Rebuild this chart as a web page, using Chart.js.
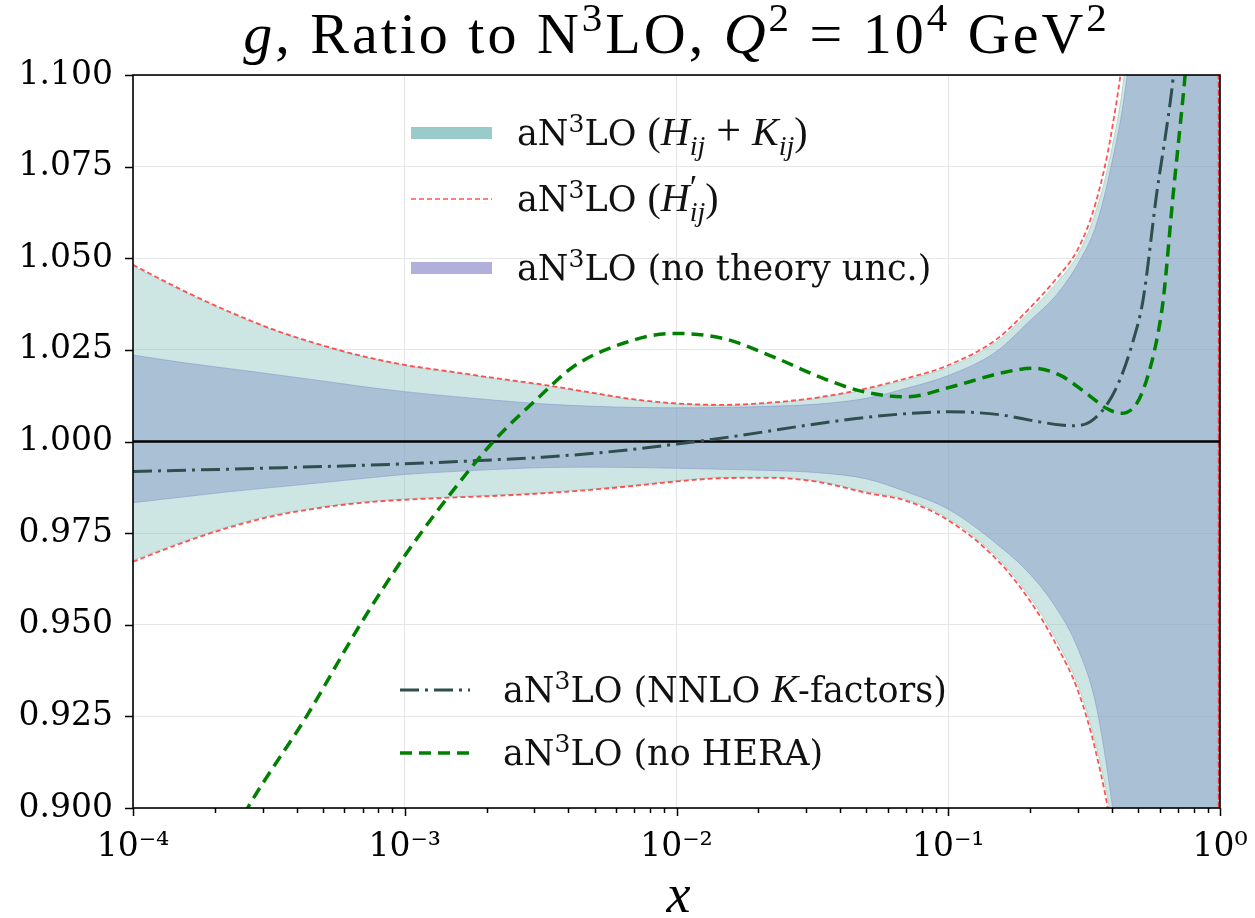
<!DOCTYPE html>
<html>
<head>
<meta charset="utf-8">
<script src="https://cdn.jsdelivr.net/npm/chart.js@4/dist/chart.umd.min.js"></script>
<style>
  html, body { margin: 0; padding: 0; background: #fff; }
  #wrap { width: 1255px; height: 918px; }
</style>
</head>
<body>
<div id="wrap"><canvas id="c" width="1255" height="918"></canvas></div>
<script>
// ---- data: ratio of the gluon PDF to N3LO at Q^2 = 10^4 GeV^2 ----
const xGrid = [1e-4, 1.5e-4, 2.2e-4, 3.3e-4, 5e-4, 7e-4, 1e-3, 1.5e-3, 2.2e-3, 3.3e-3, 5e-3, 7e-3,
               1e-2, 1.5e-2, 2.2e-2, 3.3e-2, 5e-2, 7e-2, 0.1, 0.15, 0.2, 0.25, 0.3, 0.35, 0.4, 0.45,
               0.5, 0.6, 0.8, 0.975, 1.0];

// aN3LO (H'_ij) band edges
const hpUpper = [1.0482, 1.0415, 1.0358, 1.0305, 1.0262, 1.0233, 1.0209, 1.0190, 1.0172, 1.0154, 1.0132, 1.0115,
                 1.0104, 1.0100, 1.0106, 1.0120, 1.0145, 1.0172, 1.0208, 1.0278, 1.0365, 1.0445, 1.0525, 1.0655, 1.0850, 1.1130,
                 1.16, 1.30, 1.80, 4.0, -3.0];
const hpLower = [0.9672, 0.9722, 0.9763, 0.9797, 0.9820, 0.9833, 0.9841, 0.9847, 0.9852, 0.9859, 0.9869, 0.9879,
                 0.9891, 0.9900, 0.9901, 0.9890, 0.9860, 0.9838, 0.9785, 0.9680, 0.9565, 0.9445, 0.9320, 0.9150, 0.8930, 0.8600,
                 0.82, 0.70, 0.30, -3.0, 4.0];

// aN3LO (H_ij + K_ij) band edges
const hkUpper = [1.0478, 1.0412, 1.0355, 1.0303, 1.0260, 1.0231, 1.0207, 1.0188, 1.0170, 1.0152, 1.0130, 1.0113,
                 1.0102, 1.0098, 1.0104, 1.0118, 1.0142, 1.0168, 1.0203, 1.0271, 1.0355, 1.0432, 1.0510, 1.0630, 1.0800, 1.1040,
                 1.15, 1.29, 1.78, 3.8, 3.8];
const hkLower = [0.9676, 0.9725, 0.9766, 0.9800, 0.9822, 0.9835, 0.9843, 0.9849, 0.9854, 0.9861, 0.9871, 0.9881,
                 0.9893, 0.9902, 0.9903, 0.9892, 0.9863, 0.9842, 0.9790, 0.9687, 0.9575, 0.9458, 0.9335, 0.9170, 0.8960, 0.8650,
                 0.825, 0.71, 0.32, -2.8, -2.8];

// aN3LO (no theory unc.) band edges
const expUpper = [1.0236, 1.0216, 1.0200, 1.0183, 1.0165, 1.0150, 1.0136, 1.0123, 1.0112, 1.0102, 1.0096, 1.0093,
                  1.0092, 1.0093, 1.0096, 1.0102, 1.0118, 1.0145, 1.0180, 1.0245, 1.0330, 1.0400, 1.0485, 1.0590, 1.0760, 1.0970,
                  1.13, 1.26, 1.70, 3.5, 3.5];
const expLower = [0.9833, 0.9848, 0.9862, 0.9875, 0.9888, 0.9899, 0.9910, 0.9918, 0.9924, 0.9929, 0.9930, 0.9929,
                  0.9927, 0.9924, 0.9921, 0.9915, 0.9898, 0.9863, 0.9815, 0.9722, 0.9638, 0.9545, 0.9435, 0.9280, 0.9015, 0.8700,
                  0.83, 0.72, 0.30, -2.5, -2.5];

// aN3LO (NNLO K-factors)
const kfX = [1e-4, 3e-4, 1e-3, 2e-3, 3.2e-3, 5.5e-3, 1e-2, 1.7e-2, 3e-2, 5.3e-2, 0.1, 0.155, 0.215, 0.26, 0.29,
             0.333, 0.383, 0.428, 0.48, 0.521, 0.585, 0.637, 0.673, 0.75];
const kfY = [0.9918, 0.9927, 0.9939, 0.9949, 0.9957, 0.9971, 0.9993, 1.0016, 1.0044, 1.0068, 1.0081, 1.0073, 1.0054, 1.0045, 1.0043,
             1.0054, 1.0100, 1.0168, 1.0277, 1.0386, 1.0677, 1.0859, 1.0995, 1.14];

// aN3LO (no HERA)
const nhX = [2.2e-4, 2.66e-4, 4.35e-4, 6.85e-4, 1e-3, 1.43e-3, 2.12e-3, 3.15e-3, 4.17e-3, 6.37e-3, 9.7e-3, 1.49e-2,
             2.27e-2, 3.47e-2, 4.87e-2, 7.03e-2, 0.1015, 0.155, 0.2055, 0.2576, 0.323, 0.383, 0.435, 0.494, 0.537,
             0.585, 0.618, 0.673, 0.713, 0.743, 0.8];
const nhY = [0.889, 0.9004, 0.925, 0.950, 0.9688, 0.9845, 1.0000, 1.0124, 1.0204, 1.0268, 1.0295, 1.0281,
             1.0231, 1.0172, 1.0136, 1.0122, 1.0148, 1.0186, 1.0200, 1.0181, 1.0131, 1.0090, 1.0077, 1.0104, 1.0168,
             1.0277, 1.0386, 1.0677, 1.0859, 1.0995, 1.13];

// reference line (ratio = 1)
const refX = [1e-4, 1];
const refY = [1, 1];

// axis ticks
const xDecades = [1e-4, 1e-3, 1e-2, 1e-1, 1];
const xDecadeLabels = ['10\u207B\u2074', '10\u207B\u00B3', '10\u207B\u00B2', '10\u207B\u00B9', '10\u2070'];
const yTickValues = [0.9, 0.925, 0.95, 0.975, 1.0, 1.025, 1.05, 1.075, 1.1];
const yTickLabels = ['0.900', '0.925', '0.950', '0.975', '1.000', '1.025', '1.050', '1.075', '1.100'];

// ---- helpers ----
const pts = (xs, ys) => xs.map((x, i) => ({ x, y: ys[i] }));
const isDecade = v => Math.abs(Math.log10(v) - Math.round(Math.log10(v))) < 1e-9;
const minorTicks = [];
for (let e = -4; e < 0; e++) for (let m = 1; m <= 9; m++) minorTicks.push(m * Math.pow(10, e));
minorTicks.push(1);

const TXT = '"DejaVu Serif"';
const MATH = '"Liberation Serif"';
const fTxt = s => `${s}px ${TXT}`;
const fRm = s => `${s}px ${MATH}`;
const fIt = s => `italic ${s}px ${MATH}`;

const C_GREEN = '#008000';
const C_KF = '#2f4f4f';
const C_RED = 'rgba(255,40,40,0.8)';
const DASH_GREEN = [12, 7];
const DASH_KF = [19, 6, 3, 6];
const DASH_RED = [5, 3];

// lay out a sequence of styled text runs (for super/subscripts)
function layoutRuns(ctx, runs, spacing) {
  let x0 = 0, stackStart = null, stackW = 0;
  const items = [];
  for (const r of runs) {
    ctx.font = r.font;
    const w = ctx.measureText(r.t).width + spacing * r.t.length;
    const start = stackStart !== null ? stackStart : x0;
    items.push({ r, x: start });
    if (r.keep) { stackStart = start; stackW = w; x0 = start + w; }
    else {
      const adv = Math.max(w, stackStart !== null ? stackW : 0);
      x0 = start + adv; stackStart = null; stackW = 0;
    }
  }
  return { items, width: x0 };
}
function drawRuns(ctx, runs, x, y, align, spacing = 0) {
  const hasLS = 'letterSpacing' in ctx;
  const sp = hasLS ? spacing : 0;
  if (hasLS) ctx.letterSpacing = '0px';
  const { items, width } = layoutRuns(ctx, runs, sp);
  const ox = align === 'center' ? x - width / 2 : x;
  ctx.textBaseline = 'alphabetic';
  ctx.textAlign = 'left';
  if (hasLS) ctx.letterSpacing = sp + 'px';
  for (const it of items) {
    ctx.font = it.r.font;
    ctx.fillText(it.r.t, ox + it.x, y + (it.r.dy || 0));
  }
  if (hasLS) ctx.letterSpacing = '0px';
}
const sup = (t, s, f) => ({ t, font: f(Math.round(s * 0.7)), dy: -s * 0.38 });
const sub = (t, s, f) => ({ t, font: f(Math.round(s * 0.7)), dy: s * 0.24 });

// legend content
const LS = 35;
const MS = 40;
const n3lo = [{ t: 'aN', font: fTxt(LS) }, sup('3', LS, fTxt), { t: 'LO ', font: fTxt(LS) }];
const legendTop = [
  { kind: 'band', color: '#98cbc9', y: 133,
    runs: [...n3lo, { t: '(', font: fRm(MS) }, { t: 'H', font: fIt(MS) }, sub('ij', MS, fIt),
           { t: ' + ', font: fRm(MS + 4) }, { t: 'K', font: fIt(MS) }, sub('ij', MS, fIt), { t: ')', font: fRm(MS) }] },
  { kind: 'line', color: C_RED, width: 1.6, dash: DASH_RED, y: 199,
    runs: [...n3lo, { t: '(', font: fRm(MS) }, { t: 'H', font: fIt(MS) },
           { t: '\u2032', font: fRm(Math.round(MS * 0.85)), dy: -MS * 0.32, keep: true }, sub('ij', MS, fIt),
           { t: ')', font: fRm(MS) }] },
  { kind: 'band', color: '#b0b0da', y: 268,
    runs: [...n3lo, { t: '(no theory unc.)', font: fTxt(LS) }] }
];
const legendBottom = [
  { kind: 'line', color: C_KF, width: 3, dash: DASH_KF, y: 690,
    runs: [...n3lo, { t: '(NNLO ', font: fTxt(LS) }, { t: 'K', font: fIt(MS) }, { t: '-factors)', font: fTxt(LS) }] },
  { kind: 'line', color: C_GREEN, width: 3.5, dash: DASH_GREEN, y: 753,
    runs: [...n3lo, { t: '(no HERA)', font: fTxt(LS) }] }
];

function drawLegend(ctx, entries, hx0, hx1, tx) {
  for (const e of entries) {
    ctx.save();
    ctx.beginPath();
    ctx.moveTo(hx0, e.y); ctx.lineTo(hx1, e.y);
    ctx.lineCap = 'butt';
    if (e.kind === 'band') { ctx.strokeStyle = e.color; ctx.lineWidth = 12; ctx.setLineDash([]); }
    else { ctx.strokeStyle = e.color; ctx.lineWidth = e.width; ctx.setLineDash(e.dash); }
    ctx.stroke();
    ctx.restore();
    ctx.fillStyle = '#111';
    drawRuns(ctx, e.runs, tx, e.y + 12, 'left');
  }
}

// title: g, Ratio to N3LO, Q^2 = 10^4 GeV^2
const TS = 58;
const titleRuns = [
  { t: 'g', font: fIt(TS) }, { t: ', Ratio to N', font: fRm(TS) }, sup('3', TS, fRm),
  { t: 'LO, ', font: fRm(TS) }, { t: 'Q', font: fIt(TS) }, sup('2', TS, fRm),
  { t: ' = 10', font: fRm(TS) }, sup('4', TS, fRm), { t: ' GeV', font: fRm(TS) }, sup('2', TS, fRm)
];

const decor = {
  id: 'decor',
  afterDraw(chart) {
    const { ctx, chartArea: a, scales: { x, y } } = chart;
    ctx.save();
    // tick marks
    ctx.strokeStyle = '#000';
    ctx.lineWidth = 1.5;
    ctx.setLineDash([]);
    ctx.beginPath();
    for (const t of x.ticks) {
      const px = Math.round(x.getPixelForValue(t.value)) + 0.5;
      const L = isDecade(t.value) ? 8 : 5;
      ctx.moveTo(px, a.bottom); ctx.lineTo(px, a.bottom + L);
    }
    for (const t of y.ticks) {
      const py = Math.round(y.getPixelForValue(t.value)) + 0.5;
      ctx.moveTo(a.left - 8, py); ctx.lineTo(a.left, py);
    }
    ctx.stroke();
    // frame
    ctx.lineWidth = 1.6;
    ctx.strokeRect(a.left, a.top, a.right - a.left, a.bottom - a.top);

    // title
    ctx.fillStyle = '#000';
    drawRuns(ctx, titleRuns, (a.left + a.right) / 2, 53, 'center', 3);
    // x-axis title
    drawRuns(ctx, [{ t: 'x', font: fIt(54) }], (a.left + a.right) / 2 + 2, 912, 'center');

    // legends
    drawLegend(ctx, legendTop, 411, 492, 517);
    drawLegend(ctx, legendBottom, 400, 470, 503);
    ctx.restore();
  }
};

const data = {
  datasets: [
    { label: 'aN3LO (no HERA)', data: pts(nhX, nhY), borderColor: C_GREEN, borderWidth: 3.5,
      borderDash: DASH_GREEN, fill: false, order: 0 },
    { label: 'aN3LO (NNLO K-factors)', data: pts(kfX, kfY), borderColor: C_KF, borderWidth: 3,
      borderDash: DASH_KF, fill: false, order: 1 },
    { label: 'ratio = 1', data: pts(refX, refY), borderColor: '#000', borderWidth: 2.6,
      fill: false, order: 2, cubicInterpolationMode: 'default', tension: 0 },
    { label: "aN3LO (H'ij) upper", data: pts(xGrid, hpUpper), borderColor: C_RED, borderWidth: 1.8,
      borderDash: DASH_RED, fill: false, order: 3 },
    { label: "aN3LO (H'ij) lower", data: pts(xGrid, hpLower), borderColor: C_RED, borderWidth: 1.8,
      borderDash: DASH_RED, fill: false, order: 3 },
    { label: 'aN3LO (no theory unc.)', data: pts(xGrid, expUpper), borderColor: 'rgba(120,135,200,0.45)',
      borderWidth: 1, backgroundColor: 'rgba(129,147,198,0.45)', fill: '+1', order: 5 },
    { label: 'aN3LO (no theory unc.) lower', data: pts(xGrid, expLower), borderColor: 'rgba(120,135,200,0.45)',
      borderWidth: 1, fill: false, order: 5 },
    { label: 'aN3LO (Hij+Kij)', data: pts(xGrid, hkUpper), borderColor: 'rgba(140,195,190,0.55)',
      borderWidth: 1, backgroundColor: 'rgba(144,197,193,0.45)', fill: '+1', order: 6 },
    { label: 'aN3LO (Hij+Kij) lower', data: pts(xGrid, hkLower), borderColor: 'rgba(140,195,190,0.55)',
      borderWidth: 1, fill: false, order: 6 }
  ]
};

new Chart(document.getElementById('c'), {
  type: 'line',
  data,
  plugins: [decor],
  options: {
    responsive: false,
    animation: false,
    devicePixelRatio: 1,
    layout: { padding: { top: 75, right: 35, left: 0, bottom: 0 } },
    elements: {
      point: { radius: 0, hoverRadius: 0 },
      line: { cubicInterpolationMode: 'monotone', borderCapStyle: 'butt' }
    },
    plugins: {
      legend: { display: false },
      tooltip: { enabled: false },
      title: { display: false }
    },
    events: [],
    scales: {
      x: {
        type: 'logarithmic',
        min: 1e-4, max: 1,
        afterBuildTicks: s => { s.ticks = minorTicks.map(v => ({ value: v, major: isDecade(v) })); },
        afterFit: s => { s.height = 110; s.paddingLeft = 0; s.paddingRight = 0; },
        ticks: {
          autoSkip: false, maxRotation: 0, minRotation: 0, padding: 20,
          color: '#000', font: { family: 'DejaVu Serif', size: 33 },
          callback: v => {
            const i = xDecades.findIndex(d => Math.abs(Math.log10(d) - Math.log10(v)) < 1e-6);
            return i >= 0 ? xDecadeLabels[i] : '';
          }
        },
        grid: {
          drawTicks: false, lineWidth: 1,
          color: c => (c.tick && isDecade(c.tick.value)) ? '#e6e6e6' : 'rgba(0,0,0,0)'
        },
        border: { display: false }
      },
      y: {
        type: 'linear',
        min: 0.9, max: 1.1,
        afterBuildTicks: s => { s.ticks = yTickValues.map(v => ({ value: v })); },
        afterFit: s => { s.width = 133; s.paddingTop = 0; s.paddingBottom = 0; },
        ticks: {
          padding: 20, color: '#000', font: { family: 'DejaVu Serif', size: 33 },
          callback: v => {
            const i = yTickValues.findIndex(t => Math.abs(t - v) < 1e-9);
            return i >= 0 ? yTickLabels[i] : '';
          }
        },
        grid: { drawTicks: false, color: '#e6e6e6', lineWidth: 1 },
        border: { display: false }
      }
    }
  }
});
</script>
</body>
</html>
